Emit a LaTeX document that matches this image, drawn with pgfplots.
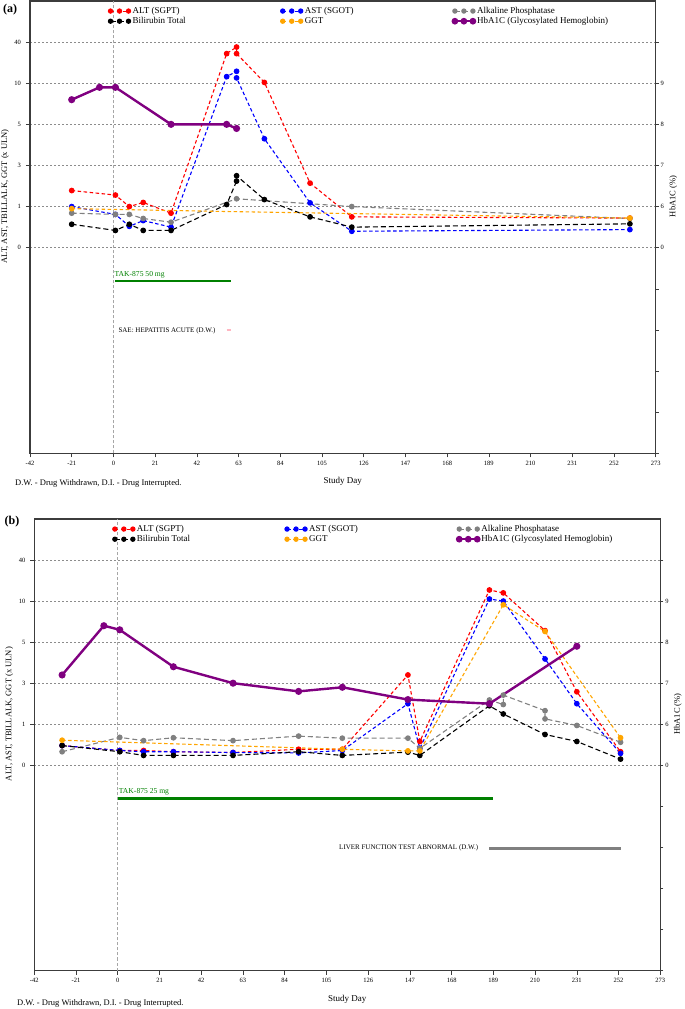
\documentclass[border=0pt]{standalone}
\usepackage{pgfplots}
\pgfplotsset{compat=1.18}
\usepackage{fontspec}
\setmainfont{Liberation Serif}
\definecolor{cALT}{RGB}{255,0,0}
\definecolor{cAST}{RGB}{0,0,255}
\definecolor{cALK}{RGB}{128,128,128}
\definecolor{cBIL}{RGB}{0,0,0}
\definecolor{cGGT}{RGB}{255,165,0}
\definecolor{cHBA}{RGB}{128,0,128}
\definecolor{cTAK}{RGB}{0,128,0}
\definecolor{cSAE}{RGB}{255,182,193}
\definecolor{cLFT}{RGB}{128,128,128}
\definecolor{frm}{RGB}{60,60,60}

\pgfplotsset{
  panel/.style={
    scale only axis,
    xmin=-42, xmax=273, ymin=-5, ymax=6,
    xtick={-42,-21,...,273},
    xticklabels={-42,-21,0,21,42,63,84,105,126,147,168,189,210,231,252,273},
    ytick={0,...,5}, yticklabels={0,1,3,5,10,40},
    ytick pos=left, xtick pos=bottom,
    tick align=outside, major tick length=4pt,
    tick style={frm, line width=0.6pt},
    axis line style={frm, line width=1.2pt},
    ymajorgrids,
    major grid style={black!45, dash pattern=on 2pt off 2pt, line width=0.6pt},
    extra x ticks={0}, extra x tick labels={},
    extra x tick style={grid=major, major tick length=0pt,
      major grid style={black!35, dash pattern=on 3pt off 2pt, line width=0.7pt}},
    xticklabel style={font=\fontsize{6.5}{7}\selectfont},
    yticklabel style={font=\fontsize{6.5}{7}\selectfont, xshift=-1.5pt},
    xlabel={Study Day},
    xlabel style={at={(axis description cs:0.5,0)}, anchor=center, yshift=-28.4pt,
      font=\fontsize{9}{10}\selectfont},
    ylabel={ALT, AST, TBILLALK, GGT (x ULN)},
    ylabel style={at={(axis description cs:-0.040,0.568)}, anchor=center,
      font=\fontsize{8.5}{9}\selectfont},
    legend columns=3,
    legend cell align=left,
    legend image code/.code={
      \draw[#1, mark repeat=1, mark phase=1, mark indices={1,2,3}, mark size=2.1pt] plot coordinates {(0pt,0pt) (9pt,0pt) (18pt,0pt)};
    },
    legend style={at={(axis description cs:0.125,1)}, anchor=north west, yshift=-5.5pt,
      draw=none, fill=none, inner sep=0pt, row sep=1.4pt,
      nodes={inner ysep=0.5pt},
      font=\fontsize{9}{10}\selectfont,
      /tikz/every even column/.append style={column sep=0pt}},
  },
  rightax/.style={
    scale only axis,
    xmin=-42, xmax=273, ymin=-5, ymax=6,
    hide x axis, axis y line*=right,
    ytick={-5,...,5}, yticklabels={,,,,,0,6,7,8,9,},
    tick align=outside, major tick length=3pt,
    tick style={frm, line width=0.6pt},
    axis line style={frm, line width=1.2pt},
    yticklabel style={font=\fontsize{6.5}{7}\selectfont, xshift=-1.5pt},
    ylabel={HbA1C (\%)},
    ylabel style={at={(axis description cs:1.028,0.568)}, anchor=center, rotate=0,
      font=\fontsize{8.5}{9}\selectfont},
  },
  dsh/.style={line width=1.1pt, dash pattern=on 3.5pt off 2.5pt, mark=*, mark size=2.3pt, mark options={solid}},
  dshl/.style={line width=1.1pt, dash pattern=on 5pt off 3pt, mark=*, mark size=2.3pt, mark options={solid}},
  hba/.style={cHBA, line width=2.4pt, solid, mark=*, mark size=2.3pt},
}

\begin{document}
\begin{tikzpicture}
\path[use as bounding box] (0pt,0pt) rectangle (685pt,1009pt);

% ---------------- Panel (a) ----------------
\begin{axis}[panel, at={(30pt,555.7pt)}, anchor=south west, width=625.7pt, height=452.3pt]
\addplot[dsh, cALT] coordinates {(-21,1.39) (1,1.28) (8,1.00) (15,1.10) (29,0.84) (57,4.72) (62,4.88) (62,4.72) (76,4.02) (99,1.57) (120,0.75) (260,0.72)};
\addlegendentry{\makebox[146pt][l]{ALT (SGPT)}}
\addplot[dsh, cAST] coordinates {(-21,1.00) (1,0.81) (8,0.52) (15,0.66) (29,0.50) (57,4.16) (62,4.29) (62,4.13) (76,2.65) (99,1.09) (120,0.40) (260,0.44)};
\addlegendentry{\makebox[146pt][l]{AST (SGOT)}}
\addplot[dshl, cALK] coordinates {(-21,0.84) (1,0.81) (8,0.81) (15,0.71) (29,0.62) (62,1.19) (120,1.00) (260,0.71)};
\addlegendentry{Alkaline Phosphatase}
\addplot[dshl, cBIL] coordinates {(-21,0.57) (1,0.42) (8,0.57) (15,0.42) (29,0.42) (57,1.05) (62,1.62) (62,1.75) (76,1.17) (99,0.75) (120,0.50) (260,0.58)};
\addlegendentry{\makebox[146pt][l]{Bilirubin Total}}
\addplot[dsh, cGGT, mark indices={1,4}] coordinates {(-21,0.95) (57,0.88) (120,0.83) (260,0.72)};
\addlegendentry{\makebox[146pt][l]{GGT}}
\addplot[hba, y filter/.expression={y-5}] coordinates {(-21,8.6) (-7,8.9) (1,8.9) (29,8.0) (57,8.0) (62,7.9)};
\addlegendentry{HbA1C (Glycosylated Hemoglobin)}
% events
\addplot[cTAK, line width=2.2pt, forget plot] coordinates {(1,-0.81) (59,-0.81)};
\node[cTAK, anchor=west, inner sep=0pt, yshift=6.7pt, font=\fontsize{7.6}{8}\selectfont] at (axis cs:0.5,-0.81) {TAK-875 50 mg};
\addplot[cSAE, line width=2.2pt, forget plot] coordinates {(57,-2.01) (59,-2.01)};
\node[anchor=east, inner sep=0pt, xshift=-11pt, font=\fontsize{7}{8}\selectfont] at (axis cs:57,-2.01) {SAE: HEPATITIS ACUTE (D.W.)};
\end{axis}
\begin{axis}[rightax, at={(30pt,555.7pt)}, anchor=south west, width=625.7pt, height=452.3pt]
\addplot[draw=none, forget plot] coordinates {(0,0)};
\end{axis}

% ---------------- Panel (b) ----------------
\begin{axis}[panel, at={(34.3pt,38.5pt)}, anchor=south west, width=626pt, height=451.5pt]
\addplot[dsh, cALT] coordinates {(-28,0.48) (1,0.36) (13,0.36) (28,0.33) (58,0.31) (91,0.39) (113,0.39) (146,2.20) (152,0.58) (187,4.27) (194,4.20) (215,3.28) (231,1.79) (253,0.33)};
\addlegendentry{\makebox[146pt][l]{ALT (SGPT)}}
\addplot[dsh, cAST] coordinates {(-28,0.48) (1,0.36) (13,0.33) (28,0.33) (58,0.31) (91,0.30) (113,0.36) (146,1.50) (152,0.41) (187,4.05) (194,4.00) (215,2.59) (231,1.50) (253,0.29)};
\addlegendentry{\makebox[146pt][l]{AST (SGOT)}}
\addplot[dshl, cALK] coordinates {(-28,0.33) (1,0.68) (13,0.60) (28,0.67) (58,0.60) (91,0.71) (113,0.66) (146,0.66) (152,0.41) (187,1.59) (194,1.48) (194,1.71) (215,1.33) (215,1.13) (231,0.97) (253,0.56)};
\addlegendentry{Alkaline Phosphatase}
\addplot[dshl, cBIL] coordinates {(-28,0.48) (1,0.33) (13,0.24) (28,0.24) (58,0.24) (91,0.33) (113,0.24) (146,0.32) (152,0.24) (187,1.45) (194,1.25) (215,0.75) (231,0.58) (253,0.15)};
\addlegendentry{\makebox[146pt][l]{Bilirubin Total}}
\addplot[dsh, cGGT] coordinates {(-28,0.61) (113,0.39) (146,0.35) (152,0.35) (194,3.91) (215,3.26) (253,0.67)};
\addlegendentry{\makebox[146pt][l]{GGT}}
\addplot[hba, y filter/.expression={y-5}] coordinates {(-28,7.2) (-7,8.4) (1,8.3) (28,7.4) (58,7.0) (91,6.8) (113,6.9) (146,6.6) (187,6.5) (231,7.9)};
\addlegendentry{HbA1C (Glycosylated Hemoglobin)}
% events
\addplot[cTAK, line width=2.2pt, forget plot] coordinates {(0,-0.81) (189,-0.81)};
\node[cTAK, anchor=west, inner sep=0pt, yshift=6.7pt, font=\fontsize{7.6}{8}\selectfont] at (axis cs:0.5,-0.81) {TAK-875 25 mg};
\addplot[cLFT, line width=3pt, forget plot] coordinates {(187,-2.02) (253,-2.02)};
\node[anchor=east, inner sep=0pt, xshift=-11pt, font=\fontsize{7}{8}\selectfont] at (axis cs:187,-2.02) {LIVER FUNCTION TEST ABNORMAL (D.W.)};
\end{axis}
\begin{axis}[rightax, at={(34.3pt,38.5pt)}, anchor=south west, width=626pt, height=451.5pt]
\addplot[draw=none, forget plot] coordinates {(0,0)};
\end{axis}

% panel tags and footnotes
\node[font=\bfseries\fontsize{12}{13}\selectfont, inner sep=0pt] at (10pt,999pt) {(a)};
\node[font=\bfseries\fontsize{12}{13}\selectfont, inner sep=0pt] at (12pt,487pt) {(b)};
\node[anchor=west, inner sep=0pt, font=\fontsize{8.5}{9}\selectfont] at (15pt,525.7pt) {D.W. - Drug Withdrawn, D.I. - Drug Interrupted.};
\node[anchor=west, inner sep=0pt, font=\fontsize{8.5}{9}\selectfont] at (17pt,6pt) {D.W. - Drug Withdrawn, D.I. - Drug Interrupted.};
\end{tikzpicture}
\end{document}
